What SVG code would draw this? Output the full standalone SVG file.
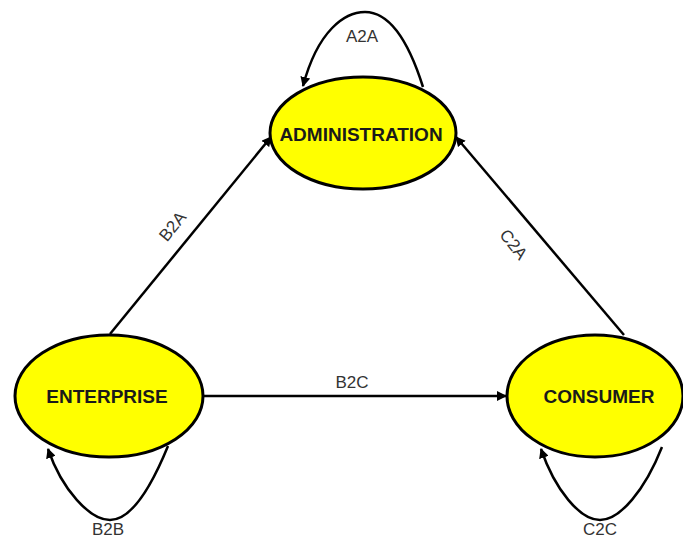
<svg xmlns="http://www.w3.org/2000/svg" width="683" height="539" viewBox="0 0 683 539">
  <style>
    .node ellipse { fill: #ffff00; stroke: #000; stroke-width: 3; }
    .node text { font-family: "Liberation Sans", Arial, sans-serif; font-weight: bold; font-size: 19px; fill: #1a1a1a; text-anchor: middle; }
    .edge { fill: none; stroke: #000; stroke-width: 2.5; marker-end: url(#arrow); }
    .lbl { font-family: "Liberation Sans", Arial, sans-serif; font-size: 17px; fill: #333; text-anchor: middle; }
  </style>
  <defs>
    <marker id="arrow" viewBox="0 0 10 10" refX="9" refY="5" markerWidth="4" markerHeight="4" orient="auto" markerUnits="strokeWidth">
      <path d="M0,0 L10,5 L0,10 z" fill="#000"/>
    </marker>
  </defs>
  <rect width="683" height="539" fill="#fff"/>

  <g id="connectors">
    <!-- B2A -->
    <line class="edge" x1="110" y1="334" x2="271" y2="137"/>
    <!-- C2A -->
    <line class="edge" x1="624" y1="335" x2="456" y2="137"/>
    <!-- B2C -->
    <line class="edge" x1="203" y1="396" x2="506" y2="396"/>
    <!-- A2A loop -->
    <path class="edge" d="M423,87 C405,30 385,12 365,12 C345,12 318,30 303,86"/>
    <!-- B2B loop -->
    <path class="edge" d="M168,446 C150,490 130,520 110,520 C90,520 62,490 48,449"/>
    <!-- C2C loop -->
    <path class="edge" d="M662,447 C645,490 620,520 600,520 C580,520 555,490 541,449"/>
    <text class="lbl" x="362" y="42">A2A</text>
    <text class="lbl" transform="translate(177,230) rotate(-51)">B2A</text>
    <text class="lbl" transform="translate(509,248) rotate(52)">C2A</text>
    <text class="lbl" x="352" y="388">B2C</text>
    <text class="lbl" x="108" y="535">B2B</text>
    <text class="lbl" x="600" y="535">C2C</text>
  </g>

  <g id="administration" class="node">
    <ellipse cx="363" cy="133" rx="93" ry="56"/>
    <text x="361" y="141">ADMINISTRATION</text>
  </g>
  <g id="enterprise" class="node">
    <ellipse cx="109" cy="396" rx="94" ry="61"/>
    <text x="107" y="403">ENTERPRISE</text>
  </g>
  <g id="consumer" class="node">
    <ellipse cx="595" cy="396" rx="88" ry="61"/>
    <text x="599" y="403">CONSUMER</text>
  </g>
</svg>
